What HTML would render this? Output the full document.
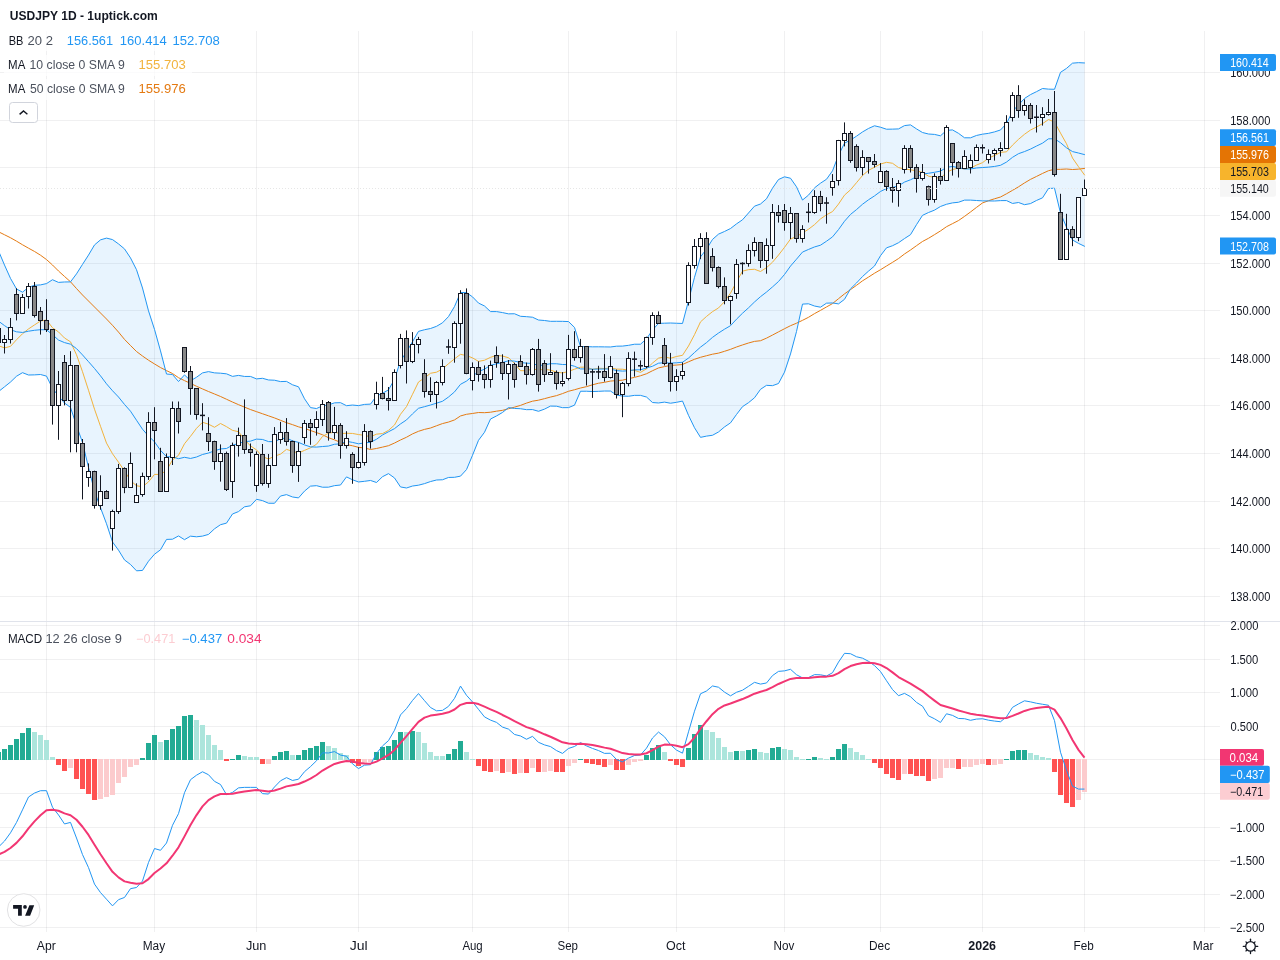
<!DOCTYPE html>
<html><head><meta charset="utf-8"><title>USDJPY 1D</title>
<style>html,body{margin:0;padding:0;background:#fff;width:1280px;height:960px;overflow:hidden}body{position:relative;font-family:"Liberation Sans", sans-serif}</style>
</head><body>
<svg width="1280" height="960" viewBox="0 0 1280 960" style="position:absolute;left:0;top:0;will-change:transform" font-family='"Liberation Sans", sans-serif'><rect width="1280" height="960" fill="#ffffff"/><path d="M46.5,31V621M46.5,622V932M154.5,31V621M154.5,622V932M256.5,31V621M256.5,622V932M358.5,31V621M358.5,622V932M472.5,31V621M472.5,622V932M568.5,31V621M568.5,622V932M676.5,31V621M676.5,622V932M784.5,31V621M784.5,622V932M880.5,31V621M880.5,622V932M982.5,31V621M982.5,622V932M1084.5,31V621M1084.5,622V932M1204.5,31V621M1204.5,622V932M0,72.5H1220M0,120.5H1220M0,167.5H1220M0,215.5H1220M0,263.5H1220M0,310.5H1220M0,358.5H1220M0,405.5H1220M0,453.5H1220M0,501.5H1220M0,548.5H1220M0,596.5H1220M0,625.5H1220M0,659.5H1220M0,692.5H1220M0,726.5H1220M0,759.5H1220M0,793.5H1220M0,827.5H1220M0,860.5H1220M0,894.5H1220M0,927.5H1220" stroke="rgba(42,46,57,0.07)" stroke-width="1" fill="none"/><path d="M-1.5,250.84 L4.5,265.06 L10.5,278.40 L16.5,288.96 L22.5,292.18 L28.5,287.33 L34.5,285.29 L40.5,284.90 L46.5,283.59 L52.5,279.73 L58.5,282.40 L64.5,281.97 L70.5,281.88 L76.5,273.85 L82.5,264.38 L88.5,255.09 L94.5,244.93 L100.5,239.85 L106.5,238.12 L112.5,239.59 L118.5,243.91 L124.5,248.90 L130.5,257.91 L136.5,269.69 L142.5,288.02 L148.5,310.85 L154.5,329.39 L160.5,350.91 L166.5,374.02 L172.5,374.52 L178.5,381.52 L184.5,374.92 L190.5,380.75 L196.5,377.25 L202.5,372.90 L208.5,371.61 L214.5,372.87 L220.5,373.20 L226.5,373.84 L232.5,376.38 L238.5,375.40 L244.5,376.44 L250.5,376.45 L256.5,378.89 L262.5,378.30 L268.5,379.96 L274.5,380.23 L280.5,381.59 L286.5,381.40 L292.5,384.77 L298.5,386.81 L304.5,398.77 L310.5,407.60 L316.5,408.54 L322.5,405.82 L328.5,404.95 L334.5,402.85 L340.5,402.66 L346.5,405.70 L352.5,405.04 L358.5,405.62 L364.5,404.42 L370.5,404.12 L376.5,395.96 L382.5,393.27 L388.5,389.84 L394.5,379.32 L400.5,360.90 L406.5,351.86 L412.5,341.71 L418.5,331.35 L424.5,329.74 L430.5,328.50 L436.5,326.34 L442.5,322.80 L448.5,316.59 L454.5,306.55 L460.5,292.50 L466.5,292.59 L472.5,296.86 L478.5,303.07 L484.5,305.97 L490.5,311.59 L496.5,311.59 L502.5,312.58 L508.5,313.85 L514.5,313.75 L520.5,316.29 L526.5,316.66 L532.5,317.23 L538.5,320.03 L544.5,320.51 L550.5,321.33 L556.5,321.29 L562.5,321.35 L568.5,321.57 L574.5,327.41 L580.5,346.62 L586.5,346.62 L592.5,346.83 L598.5,346.81 L604.5,346.89 L610.5,346.97 L616.5,346.19 L622.5,346.09 L628.5,345.33 L634.5,344.22 L640.5,344.22 L646.5,338.86 L652.5,329.97 L658.5,323.40 L664.5,323.19 L670.5,323.01 L676.5,323.25 L682.5,323.46 L688.5,300.78 L694.5,277.31 L700.5,256.89 L706.5,249.13 L712.5,239.43 L718.5,234.13 L724.5,231.47 L730.5,228.53 L736.5,223.89 L742.5,219.79 L748.5,212.98 L754.5,206.16 L760.5,204.00 L766.5,198.80 L772.5,188.16 L778.5,179.53 L784.5,176.82 L790.5,178.24 L796.5,186.80 L802.5,200.05 L808.5,195.11 L814.5,187.87 L820.5,183.20 L826.5,179.25 L832.5,170.84 L838.5,155.27 L844.5,143.13 L850.5,140.07 L856.5,136.17 L862.5,131.95 L868.5,128.46 L874.5,125.79 L880.5,127.23 L886.5,129.23 L892.5,129.13 L898.5,128.92 L904.5,125.60 L910.5,124.89 L916.5,128.90 L922.5,132.53 L928.5,134.01 L934.5,134.42 L940.5,135.80 L946.5,130.38 L952.5,129.92 L958.5,133.34 L964.5,137.78 L970.5,137.82 L976.5,135.46 L982.5,134.17 L988.5,133.35 L994.5,131.90 L1000.5,129.97 L1006.5,123.60 L1012.5,111.23 L1018.5,104.88 L1024.5,98.45 L1030.5,94.60 L1036.5,91.67 L1042.5,88.51 L1048.5,89.14 L1054.5,89.29 L1060.5,72.33 L1066.5,68.40 L1072.5,63.16 L1078.5,62.65 L1084.5,62.96 L1084.5,246.25 L1078.5,243.38 L1072.5,239.99 L1066.5,227.23 L1060.5,213.08 L1054.5,188.21 L1048.5,188.51 L1042.5,197.83 L1036.5,200.46 L1030.5,203.58 L1024.5,204.68 L1018.5,202.51 L1012.5,203.45 L1006.5,200.57 L1000.5,200.62 L994.5,201.00 L988.5,200.94 L982.5,200.88 L976.5,200.50 L970.5,200.11 L964.5,200.11 L958.5,202.26 L952.5,202.89 L946.5,204.27 L940.5,206.47 L934.5,210.14 L928.5,212.53 L922.5,215.35 L916.5,224.67 L910.5,234.68 L904.5,238.56 L898.5,242.73 L892.5,245.72 L886.5,247.84 L880.5,255.70 L874.5,266.02 L868.5,271.14 L862.5,276.55 L856.5,282.99 L850.5,288.80 L844.5,299.34 L838.5,303.89 L832.5,302.94 L826.5,303.18 L820.5,307.20 L814.5,306.03 L808.5,303.79 L802.5,304.10 L796.5,331.55 L790.5,353.94 L784.5,372.14 L778.5,383.50 L772.5,385.67 L766.5,385.33 L760.5,389.34 L754.5,397.78 L748.5,402.68 L742.5,406.66 L736.5,414.47 L730.5,422.86 L724.5,426.93 L718.5,431.98 L712.5,435.28 L706.5,436.11 L700.5,437.36 L694.5,427.74 L688.5,415.36 L682.5,401.07 L676.5,402.32 L670.5,403.22 L664.5,402.12 L658.5,402.98 L652.5,402.53 L646.5,397.02 L640.5,395.37 L634.5,395.37 L628.5,396.26 L622.5,396.10 L616.5,395.04 L610.5,391.05 L604.5,391.03 L598.5,391.34 L592.5,391.53 L586.5,391.23 L580.5,391.25 L574.5,405.16 L568.5,407.62 L562.5,407.67 L556.5,406.21 L550.5,406.09 L544.5,409.11 L538.5,411.29 L532.5,409.57 L526.5,409.67 L520.5,408.72 L514.5,408.46 L508.5,407.59 L502.5,412.46 L496.5,415.95 L490.5,419.03 L484.5,432.25 L478.5,440.31 L472.5,455.30 L466.5,469.58 L460.5,476.14 L454.5,477.30 L448.5,477.46 L442.5,479.75 L436.5,480.01 L430.5,481.55 L424.5,483.62 L418.5,485.19 L412.5,486.03 L406.5,487.99 L400.5,486.95 L394.5,477.95 L388.5,473.64 L382.5,476.70 L376.5,482.51 L370.5,480.46 L364.5,481.31 L358.5,481.96 L352.5,479.77 L346.5,476.90 L340.5,485.03 L334.5,485.65 L328.5,487.18 L322.5,487.22 L316.5,485.66 L310.5,486.14 L304.5,491.10 L298.5,497.90 L292.5,496.97 L286.5,494.61 L280.5,496.04 L274.5,503.28 L268.5,503.22 L262.5,500.61 L256.5,499.32 L250.5,505.81 L244.5,506.80 L238.5,511.59 L232.5,513.98 L226.5,523.14 L220.5,524.70 L214.5,528.82 L208.5,534.42 L202.5,536.11 L196.5,536.81 L190.5,536.16 L184.5,539.68 L178.5,535.94 L172.5,539.21 L166.5,539.42 L160.5,549.79 L154.5,554.21 L148.5,561.23 L142.5,570.43 L136.5,570.80 L130.5,564.48 L124.5,559.95 L118.5,550.16 L112.5,541.94 L106.5,523.75 L100.5,507.75 L94.5,491.25 L88.5,467.40 L82.5,442.50 L76.5,425.55 L70.5,407.40 L64.5,403.00 L58.5,396.11 L52.5,388.29 L46.5,376.11 L40.5,374.51 L34.5,374.87 L28.5,375.00 L22.5,372.66 L16.5,376.25 L10.5,382.04 L4.5,386.82 L-1.5,391.59Z" fill="#2196f3" fill-opacity="0.1"/><g fill="none" stroke-linejoin="round" stroke-linecap="round"><path d="M-1.5,231.75 L4.5,234.75 L10.5,237.75 L16.5,241.15 L22.5,244.75 L28.5,248.17 L34.5,251.46 L40.5,255.19 L46.5,259.57 L52.5,265.00 L58.5,271.00 L64.5,276.44 L70.5,281.81 L76.5,288.56 L82.5,295.00 L88.5,301.00 L94.5,307.00 L100.5,313.00 L106.5,319.00 L112.5,325.32 L118.5,332.09 L124.5,339.38 L130.5,345.50 L136.5,351.50 L142.5,356.02 L148.5,360.21 L154.5,363.95 L160.5,367.55 L166.5,370.60 L172.5,373.52 L178.5,377.70 L184.5,380.64 L190.5,383.38 L196.5,386.27 L202.5,388.93 L208.5,391.52 L214.5,393.99 L220.5,396.48 L226.5,399.26 L232.5,402.04 L238.5,404.65 L244.5,407.13 L250.5,409.57 L256.5,411.66 L262.5,413.75 L268.5,415.84 L274.5,417.93 L280.5,420.30 L286.5,422.70 L292.5,424.65 L298.5,426.82 L304.5,428.49 L310.5,430.49 L316.5,432.60 L322.5,434.75 L328.5,437.68 L334.5,439.88 L340.5,442.38 L346.5,444.54 L352.5,445.78 L358.5,447.35 L364.5,447.97 L370.5,449.49 L376.5,448.48 L382.5,447.12 L388.5,445.70 L394.5,443.04 L400.5,439.98 L406.5,437.24 L412.5,433.89 L418.5,431.31 L424.5,429.39 L430.5,428.02 L436.5,425.77 L442.5,423.57 L448.5,422.07 L454.5,419.93 L460.5,415.96 L466.5,414.29 L472.5,413.47 L478.5,412.53 L484.5,412.69 L490.5,412.23 L496.5,411.18 L502.5,410.33 L508.5,408.78 L514.5,407.14 L520.5,405.40 L526.5,403.11 L532.5,401.18 L538.5,400.18 L544.5,398.67 L550.5,397.05 L556.5,395.63 L562.5,393.59 L568.5,391.27 L574.5,389.74 L580.5,388.01 L586.5,386.65 L592.5,384.79 L598.5,383.22 L604.5,382.30 L610.5,381.08 L616.5,380.59 L622.5,380.16 L628.5,378.68 L634.5,377.36 L640.5,375.78 L646.5,373.76 L652.5,370.72 L658.5,367.94 L664.5,366.59 L670.5,365.38 L676.5,365.05 L682.5,364.51 L688.5,361.81 L694.5,359.29 L700.5,357.29 L706.5,355.73 L712.5,354.19 L718.5,353.13 L724.5,351.31 L730.5,349.35 L736.5,346.99 L742.5,344.94 L748.5,343.00 L754.5,341.38 L760.5,340.72 L766.5,338.15 L772.5,335.05 L778.5,331.87 L784.5,328.73 L790.5,325.70 L796.5,323.21 L802.5,320.33 L808.5,317.30 L814.5,313.63 L820.5,310.37 L826.5,306.95 L832.5,303.58 L838.5,298.70 L844.5,293.88 L850.5,289.64 L856.5,285.32 L862.5,280.84 L868.5,277.08 L874.5,273.23 L880.5,269.73 L886.5,266.00 L892.5,262.35 L898.5,258.57 L904.5,253.98 L910.5,250.01 L916.5,245.68 L922.5,241.47 L928.5,238.29 L934.5,234.63 L940.5,230.91 L946.5,226.71 L952.5,223.64 L958.5,220.54 L964.5,216.40 L970.5,211.98 L976.5,207.40 L982.5,202.94 L988.5,200.71 L994.5,198.79 L1000.5,197.00 L1006.5,193.78 L1012.5,190.35 L1018.5,186.82 L1024.5,182.93 L1030.5,179.37 L1036.5,176.44 L1042.5,173.44 L1048.5,170.69 L1054.5,169.34 L1060.5,169.32 L1066.5,169.01 L1072.5,169.51 L1078.5,169.14 L1084.5,168.44" stroke="#e47a12" stroke-width="1"/><path d="M-1.5,345.69 L4.5,347.92 L10.5,346.35 L16.5,339.75 L22.5,333.75 L28.5,328.92 L34.5,324.92 L40.5,321.00 L46.5,320.02 L52.5,327.79 L58.5,331.91 L64.5,337.99 L70.5,341.80 L76.5,354.75 L82.5,371.71 L88.5,390.22 L94.5,409.19 L100.5,426.29 L106.5,443.12 L112.5,453.74 L118.5,462.16 L124.5,470.86 L130.5,480.59 L136.5,485.74 L142.5,486.74 L148.5,481.86 L154.5,474.41 L160.5,474.41 L166.5,470.32 L172.5,459.99 L178.5,455.30 L184.5,443.74 L190.5,436.32 L196.5,428.32 L202.5,422.27 L208.5,424.17 L214.5,427.28 L220.5,423.49 L226.5,426.66 L232.5,430.37 L238.5,431.69 L244.5,439.50 L250.5,445.94 L256.5,449.89 L262.5,456.64 L268.5,459.00 L274.5,456.23 L280.5,454.14 L286.5,449.35 L292.5,451.37 L298.5,453.02 L304.5,450.37 L310.5,447.80 L316.5,444.31 L322.5,436.40 L328.5,433.12 L334.5,432.26 L340.5,433.56 L346.5,433.25 L352.5,433.44 L358.5,434.56 L364.5,435.37 L370.5,436.78 L376.5,434.16 L382.5,433.57 L388.5,430.35 L394.5,425.00 L400.5,414.29 L406.5,406.60 L412.5,394.30 L418.5,381.98 L424.5,378.00 L430.5,373.27 L436.5,372.19 L442.5,368.98 L448.5,363.70 L454.5,358.85 L460.5,354.35 L466.5,355.57 L472.5,357.86 L478.5,361.40 L484.5,360.22 L490.5,357.35 L496.5,355.35 L502.5,356.06 L508.5,357.74 L514.5,363.36 L520.5,370.66 L526.5,370.76 L532.5,368.94 L538.5,369.92 L544.5,369.40 L550.5,370.07 L556.5,372.15 L562.5,372.96 L568.5,371.45 L574.5,369.21 L580.5,367.21 L586.5,367.09 L592.5,369.42 L598.5,368.23 L604.5,368.52 L610.5,367.95 L616.5,369.08 L622.5,369.23 L628.5,370.14 L634.5,370.38 L640.5,372.38 L646.5,368.79 L652.5,363.08 L658.5,358.15 L664.5,356.79 L670.5,358.28 L676.5,356.49 L682.5,355.30 L688.5,346.00 L694.5,334.67 L700.5,321.87 L706.5,316.45 L712.5,311.63 L718.5,307.96 L724.5,301.61 L730.5,293.11 L736.5,281.87 L742.5,271.15 L748.5,269.66 L754.5,269.27 L760.5,271.47 L766.5,267.68 L772.5,262.20 L778.5,255.07 L784.5,247.35 L790.5,239.07 L796.5,236.48 L802.5,233.00 L808.5,229.24 L814.5,224.63 L820.5,218.93 L826.5,214.75 L832.5,211.58 L838.5,204.09 L844.5,195.12 L850.5,189.80 L856.5,182.68 L862.5,175.50 L868.5,170.36 L874.5,167.18 L880.5,164.00 L886.5,162.32 L892.5,163.27 L898.5,167.56 L904.5,169.04 L910.5,169.77 L916.5,170.89 L922.5,172.37 L928.5,176.18 L934.5,177.38 L940.5,178.27 L946.5,172.33 L952.5,169.54 L958.5,168.04 L964.5,168.85 L970.5,168.16 L976.5,165.07 L982.5,162.67 L988.5,158.10 L994.5,155.52 L1000.5,152.32 L1006.5,151.84 L1012.5,145.14 L1018.5,139.34 L1024.5,134.28 L1030.5,130.03 L1036.5,127.05 L1042.5,123.67 L1048.5,119.55 L1054.5,121.98 L1060.5,133.08 L1066.5,143.78 L1072.5,158.01 L1078.5,166.69 L1084.5,174.93" stroke="#f2b33d" stroke-width="1"/><path d="M-1.5,250.84 L4.5,265.06 L10.5,278.40 L16.5,288.96 L22.5,292.18 L28.5,287.33 L34.5,285.29 L40.5,284.90 L46.5,283.59 L52.5,279.73 L58.5,282.40 L64.5,281.97 L70.5,281.88 L76.5,273.85 L82.5,264.38 L88.5,255.09 L94.5,244.93 L100.5,239.85 L106.5,238.12 L112.5,239.59 L118.5,243.91 L124.5,248.90 L130.5,257.91 L136.5,269.69 L142.5,288.02 L148.5,310.85 L154.5,329.39 L160.5,350.91 L166.5,374.02 L172.5,374.52 L178.5,381.52 L184.5,374.92 L190.5,380.75 L196.5,377.25 L202.5,372.90 L208.5,371.61 L214.5,372.87 L220.5,373.20 L226.5,373.84 L232.5,376.38 L238.5,375.40 L244.5,376.44 L250.5,376.45 L256.5,378.89 L262.5,378.30 L268.5,379.96 L274.5,380.23 L280.5,381.59 L286.5,381.40 L292.5,384.77 L298.5,386.81 L304.5,398.77 L310.5,407.60 L316.5,408.54 L322.5,405.82 L328.5,404.95 L334.5,402.85 L340.5,402.66 L346.5,405.70 L352.5,405.04 L358.5,405.62 L364.5,404.42 L370.5,404.12 L376.5,395.96 L382.5,393.27 L388.5,389.84 L394.5,379.32 L400.5,360.90 L406.5,351.86 L412.5,341.71 L418.5,331.35 L424.5,329.74 L430.5,328.50 L436.5,326.34 L442.5,322.80 L448.5,316.59 L454.5,306.55 L460.5,292.50 L466.5,292.59 L472.5,296.86 L478.5,303.07 L484.5,305.97 L490.5,311.59 L496.5,311.59 L502.5,312.58 L508.5,313.85 L514.5,313.75 L520.5,316.29 L526.5,316.66 L532.5,317.23 L538.5,320.03 L544.5,320.51 L550.5,321.33 L556.5,321.29 L562.5,321.35 L568.5,321.57 L574.5,327.41 L580.5,346.62 L586.5,346.62 L592.5,346.83 L598.5,346.81 L604.5,346.89 L610.5,346.97 L616.5,346.19 L622.5,346.09 L628.5,345.33 L634.5,344.22 L640.5,344.22 L646.5,338.86 L652.5,329.97 L658.5,323.40 L664.5,323.19 L670.5,323.01 L676.5,323.25 L682.5,323.46 L688.5,300.78 L694.5,277.31 L700.5,256.89 L706.5,249.13 L712.5,239.43 L718.5,234.13 L724.5,231.47 L730.5,228.53 L736.5,223.89 L742.5,219.79 L748.5,212.98 L754.5,206.16 L760.5,204.00 L766.5,198.80 L772.5,188.16 L778.5,179.53 L784.5,176.82 L790.5,178.24 L796.5,186.80 L802.5,200.05 L808.5,195.11 L814.5,187.87 L820.5,183.20 L826.5,179.25 L832.5,170.84 L838.5,155.27 L844.5,143.13 L850.5,140.07 L856.5,136.17 L862.5,131.95 L868.5,128.46 L874.5,125.79 L880.5,127.23 L886.5,129.23 L892.5,129.13 L898.5,128.92 L904.5,125.60 L910.5,124.89 L916.5,128.90 L922.5,132.53 L928.5,134.01 L934.5,134.42 L940.5,135.80 L946.5,130.38 L952.5,129.92 L958.5,133.34 L964.5,137.78 L970.5,137.82 L976.5,135.46 L982.5,134.17 L988.5,133.35 L994.5,131.90 L1000.5,129.97 L1006.5,123.60 L1012.5,111.23 L1018.5,104.88 L1024.5,98.45 L1030.5,94.60 L1036.5,91.67 L1042.5,88.51 L1048.5,89.14 L1054.5,89.29 L1060.5,72.33 L1066.5,68.40 L1072.5,63.16 L1078.5,62.65 L1084.5,62.96" stroke="#2196f3" stroke-width="1"/><path d="M-1.5,391.59 L4.5,386.82 L10.5,382.04 L16.5,376.25 L22.5,372.66 L28.5,375.00 L34.5,374.87 L40.5,374.51 L46.5,376.11 L52.5,388.29 L58.5,396.11 L64.5,403.00 L70.5,407.40 L76.5,425.55 L82.5,442.50 L88.5,467.40 L94.5,491.25 L100.5,507.75 L106.5,523.75 L112.5,541.94 L118.5,550.16 L124.5,559.95 L130.5,564.48 L136.5,570.80 L142.5,570.43 L148.5,561.23 L154.5,554.21 L160.5,549.79 L166.5,539.42 L172.5,539.21 L178.5,535.94 L184.5,539.68 L190.5,536.16 L196.5,536.81 L202.5,536.11 L208.5,534.42 L214.5,528.82 L220.5,524.70 L226.5,523.14 L232.5,513.98 L238.5,511.59 L244.5,506.80 L250.5,505.81 L256.5,499.32 L262.5,500.61 L268.5,503.22 L274.5,503.28 L280.5,496.04 L286.5,494.61 L292.5,496.97 L298.5,497.90 L304.5,491.10 L310.5,486.14 L316.5,485.66 L322.5,487.22 L328.5,487.18 L334.5,485.65 L340.5,485.03 L346.5,476.90 L352.5,479.77 L358.5,481.96 L364.5,481.31 L370.5,480.46 L376.5,482.51 L382.5,476.70 L388.5,473.64 L394.5,477.95 L400.5,486.95 L406.5,487.99 L412.5,486.03 L418.5,485.19 L424.5,483.62 L430.5,481.55 L436.5,480.01 L442.5,479.75 L448.5,477.46 L454.5,477.30 L460.5,476.14 L466.5,469.58 L472.5,455.30 L478.5,440.31 L484.5,432.25 L490.5,419.03 L496.5,415.95 L502.5,412.46 L508.5,407.59 L514.5,408.46 L520.5,408.72 L526.5,409.67 L532.5,409.57 L538.5,411.29 L544.5,409.11 L550.5,406.09 L556.5,406.21 L562.5,407.67 L568.5,407.62 L574.5,405.16 L580.5,391.25 L586.5,391.23 L592.5,391.53 L598.5,391.34 L604.5,391.03 L610.5,391.05 L616.5,395.04 L622.5,396.10 L628.5,396.26 L634.5,395.37 L640.5,395.37 L646.5,397.02 L652.5,402.53 L658.5,402.98 L664.5,402.12 L670.5,403.22 L676.5,402.32 L682.5,401.07 L688.5,415.36 L694.5,427.74 L700.5,437.36 L706.5,436.11 L712.5,435.28 L718.5,431.98 L724.5,426.93 L730.5,422.86 L736.5,414.47 L742.5,406.66 L748.5,402.68 L754.5,397.78 L760.5,389.34 L766.5,385.33 L772.5,385.67 L778.5,383.50 L784.5,372.14 L790.5,353.94 L796.5,331.55 L802.5,304.10 L808.5,303.79 L814.5,306.03 L820.5,307.20 L826.5,303.18 L832.5,302.94 L838.5,303.89 L844.5,299.34 L850.5,288.80 L856.5,282.99 L862.5,276.55 L868.5,271.14 L874.5,266.02 L880.5,255.70 L886.5,247.84 L892.5,245.72 L898.5,242.73 L904.5,238.56 L910.5,234.68 L916.5,224.67 L922.5,215.35 L928.5,212.53 L934.5,210.14 L940.5,206.47 L946.5,204.27 L952.5,202.89 L958.5,202.26 L964.5,200.11 L970.5,200.11 L976.5,200.50 L982.5,200.88 L988.5,200.94 L994.5,201.00 L1000.5,200.62 L1006.5,200.57 L1012.5,203.45 L1018.5,202.51 L1024.5,204.68 L1030.5,203.58 L1036.5,200.46 L1042.5,197.83 L1048.5,188.51 L1054.5,188.21 L1060.5,213.08 L1066.5,227.23 L1072.5,239.99 L1078.5,243.38 L1084.5,246.25" stroke="#2196f3" stroke-width="1"/><path d="M-1.5,321.13 L4.5,325.60 L10.5,329.69 L16.5,331.80 L22.5,332.48 L28.5,331.19 L34.5,330.29 L40.5,329.71 L46.5,329.73 L52.5,334.69 L58.5,340.05 L64.5,342.58 L70.5,344.20 L76.5,348.60 L82.5,354.91 L88.5,361.66 L94.5,368.48 L100.5,375.85 L106.5,383.82 L112.5,390.76 L118.5,397.03 L124.5,404.43 L130.5,411.19 L136.5,420.25 L142.5,429.22 L148.5,436.04 L154.5,441.80 L160.5,450.35 L166.5,456.72 L172.5,456.86 L178.5,458.73 L184.5,457.30 L190.5,458.46 L196.5,457.03 L202.5,454.50 L208.5,453.01 L214.5,450.85 L220.5,448.95 L226.5,448.49 L232.5,445.18 L238.5,443.50 L244.5,441.62 L250.5,441.13 L256.5,439.10 L262.5,439.46 L268.5,441.59 L274.5,441.76 L280.5,438.81 L286.5,438.00 L292.5,440.87 L298.5,442.36 L304.5,444.93 L310.5,446.87 L316.5,447.10 L322.5,446.52 L328.5,446.06 L334.5,444.25 L340.5,443.84 L346.5,441.30 L352.5,442.41 L358.5,443.79 L364.5,442.87 L370.5,442.29 L376.5,439.24 L382.5,434.98 L388.5,431.74 L394.5,428.63 L400.5,423.92 L406.5,419.93 L412.5,413.87 L418.5,408.27 L424.5,406.68 L430.5,405.02 L436.5,403.17 L442.5,401.27 L448.5,397.02 L454.5,391.92 L460.5,384.32 L466.5,381.08 L472.5,376.08 L478.5,371.69 L484.5,369.11 L490.5,365.31 L496.5,363.77 L502.5,362.52 L508.5,360.72 L514.5,361.11 L520.5,362.50 L526.5,363.17 L532.5,363.40 L538.5,365.66 L544.5,364.81 L550.5,363.71 L556.5,363.75 L562.5,364.51 L568.5,364.60 L574.5,366.28 L580.5,368.94 L586.5,368.93 L592.5,369.18 L598.5,369.07 L604.5,368.96 L610.5,369.01 L616.5,370.62 L622.5,371.10 L628.5,370.80 L634.5,369.80 L640.5,369.80 L646.5,367.94 L652.5,366.25 L658.5,363.19 L664.5,362.65 L670.5,363.11 L676.5,362.79 L682.5,362.26 L688.5,358.07 L694.5,352.53 L700.5,347.13 L706.5,342.62 L712.5,337.36 L718.5,333.05 L724.5,329.20 L730.5,325.70 L736.5,319.18 L742.5,313.22 L748.5,307.83 L754.5,301.97 L760.5,296.67 L766.5,292.06 L772.5,286.91 L778.5,281.51 L784.5,274.48 L790.5,266.09 L796.5,259.18 L802.5,252.07 L808.5,249.45 L814.5,246.95 L820.5,245.20 L826.5,241.22 L832.5,236.89 L838.5,229.58 L844.5,221.24 L850.5,214.44 L856.5,209.58 L862.5,204.25 L868.5,199.80 L874.5,195.90 L880.5,191.46 L886.5,188.53 L892.5,187.43 L898.5,185.82 L904.5,182.08 L910.5,179.78 L916.5,176.78 L922.5,173.94 L928.5,173.27 L934.5,172.28 L940.5,171.14 L946.5,167.33 L952.5,166.41 L958.5,167.80 L964.5,168.95 L970.5,168.96 L976.5,167.98 L982.5,167.52 L988.5,167.14 L994.5,166.45 L1000.5,165.30 L1006.5,162.09 L1012.5,157.34 L1018.5,153.69 L1024.5,151.57 L1030.5,149.09 L1036.5,146.06 L1042.5,143.17 L1048.5,138.82 L1054.5,138.75 L1060.5,142.71 L1066.5,147.81 L1072.5,151.57 L1078.5,153.02 L1084.5,154.60" stroke="#2196f3" stroke-width="1"/></g><path d="M-1.5,326.0V345.0M4.5,335.0V353.5M10.5,318.0V343.5M16.5,288.3V320.4M22.5,294.0V313.8M28.5,283.0V308.5M34.5,282.0V317.5M40.5,307.0V334.6M46.5,299.2V332.0M52.5,329.0V424.6M58.5,371.0V439.8M64.5,355.0V405.4M70.5,351.2V452.3M76.5,365.4V452.3M82.5,439.0V499.4M88.5,463.4V486.8M94.5,470.7V508.6M100.5,475.3V509.7M106.5,490.2V498.7M112.5,509.7V550.6M118.5,463.9V513.9M124.5,467.3V493.2M130.5,452.4V487.2M136.5,483.3V502.4M142.5,472.6V496.7M148.5,412.2V479.9M154.5,407.2V459.3M160.5,447.8V491.4M166.5,453.5V491.4M172.5,401.5V465.0M178.5,401.5V433.5M184.5,347.3V372.8M190.5,366.0V414.8M196.5,388.5V419.7M202.5,403.2V430.4M208.5,417.2V451.0M214.5,440.7V469.8M220.5,444.4V481.6M226.5,451.6V491.0M232.5,442.6V497.9M238.5,427.6V456.6M244.5,399.4V453.8M250.5,443.5V466.6M256.5,451.4V491.8M262.5,444.0V485.6M268.5,454.0V487.8M274.5,427.1V465.6M280.5,421.9V443.8M286.5,418.1V445.6M292.5,440.6V472.8M298.5,442.5V481.9M304.5,420.0V443.8M310.5,419.0V444.8M316.5,411.2V435.6M322.5,400.0V426.0M328.5,401.0V440.6M334.5,406.9V439.0M340.5,423.2V458.7M346.5,431.2V448.6M352.5,452.3V483.8M358.5,447.0V468.5M364.5,424.1V465.6M370.5,430.4V448.6M376.5,381.7V409.5M382.5,376.9V399.4M388.5,387.0V410.5M394.5,369.3V400.6M400.5,333.9V368.4M406.5,330.4V383.5M412.5,332.1V363.1M418.5,336.9V353.4M424.5,359.2V397.6M430.5,377.3V402.0M436.5,381.1V408.5M442.5,359.3V385.4M448.5,339.3V353.8M454.5,321.3V362.7M460.5,290.2V343.7M466.5,288.4V374.2M472.5,362.4V390.4M478.5,361.3V381.6M484.5,365.4V388.4M490.5,360.6V387.7M496.5,346.4V367.8M502.5,354.3V380.0M508.5,360.0V399.5M514.5,362.7V387.7M520.5,355.2V366.7M526.5,362.5V384.5M532.5,348.0V375.6M538.5,338.9V391.6M544.5,360.1V381.9M550.5,353.2V374.8M556.5,370.4V389.6M562.5,372.1V386.4M568.5,334.9V380.5M574.5,331.2V360.7M580.5,338.9V362.6M586.5,346.3V385.5M592.5,369.0V397.9M598.5,365.8V379.0M604.5,354.1V381.6M610.5,356.1V378.4M616.5,369.5V398.5M622.5,382.0V417.2M628.5,352.2V386.3M634.5,351.6V376.6M640.5,360.4V370.5M646.5,336.7V368.2M652.5,312.3V344.8M658.5,311.4V323.2M664.5,338.0V365.5M670.5,352.9V391.5M676.5,369.2V390.8M682.5,362.4V379.6M688.5,262.3V305.5M694.5,239.0V268.6M700.5,233.2V259.1M706.5,232.2V283.2M712.5,248.2V271.5M718.5,266.4V288.3M724.5,277.4V304.3M730.5,295.6V324.4M736.5,259.1V298.8M742.5,262.3V274.4M748.5,244.3V266.7M754.5,237.3V256.5M760.5,242.4V267.9M766.5,238.4V273.7M772.5,204.0V258.8M778.5,205.1V222.6M784.5,204.0V230.7M790.5,207.0V239.0M796.5,213.2V242.7M802.5,225.2V242.7M808.5,203.0V222.5M814.5,190.2V213.8M820.5,190.9V211.3M826.5,197.2V223.7M832.5,174.1V195.7M838.5,139.9V185.5M844.5,122.4V146.4M850.5,131.1V162.8M856.5,144.3V171.5M862.5,150.2V175.3M868.5,157.4V173.6M874.5,154.0V167.6M880.5,163.1V182.5M886.5,170.2V190.8M892.5,178.0V202.7M898.5,180.1V206.7M904.5,145.2V173.5M910.5,145.2V172.5M916.5,164.2V192.6M922.5,164.0V180.6M928.5,185.6V205.6M934.5,173.3V202.7M940.5,168.1V184.6M946.5,125.2V180.3M952.5,143.4V175.6M958.5,161.0V177.5M964.5,150.2V168.1M970.5,154.4V173.5M976.5,144.4V160.2M982.5,144.4V153.5M988.5,149.4V163.5M994.5,148.5V160.6M1000.5,142.2V156.5M1006.5,115.2V148.5M1012.5,92.2V121.5M1018.5,85.2V117.8M1024.5,99.4V115.6M1030.5,103.1V123.5M1036.5,105.0V132.5M1042.5,107.2V125.6M1048.5,99.0V115.6M1054.5,91.0V176.6M1060.5,193.8V259.5M1066.5,213.8V259.5M1072.5,226.2V246.2M1078.5,197.0V241.2M1084.5,179.5V195.5" stroke="#131722" stroke-width="1" fill="none"/><g fill="#ffffff" stroke="#131722" stroke-width="1"><rect x="2.5" y="339.5" width="4" height="3"/><rect x="8.5" y="327.5" width="4" height="12"/><rect x="20.5" y="297.5" width="4" height="16"/><rect x="26.5" y="286.5" width="4" height="10"/><rect x="56.5" y="384.5" width="4" height="21"/><rect x="68.5" y="365.5" width="4" height="35"/><rect x="86.5" y="471.5" width="4" height="6"/><rect x="98.5" y="491.5" width="4" height="14"/><rect x="110.5" y="511.5" width="4" height="17"/><rect x="116.5" y="468.5" width="4" height="43"/><rect x="128.5" y="463.5" width="4" height="24"/><rect x="134.5" y="495.5" width="4" height="7"/><rect x="140.5" y="476.5" width="4" height="18"/><rect x="146.5" y="422.5" width="4" height="54"/><rect x="164.5" y="457.5" width="4" height="34"/><rect x="170.5" y="408.5" width="4" height="49"/><rect x="218.5" y="453.5" width="4" height="8"/><rect x="230.5" y="445.5" width="4" height="36"/><rect x="236.5" y="435.5" width="4" height="10"/><rect x="254.5" y="454.5" width="4" height="31"/><rect x="266.5" y="465.5" width="4" height="18"/><rect x="272.5" y="434.5" width="4" height="31"/><rect x="278.5" y="432.5" width="4" height="7"/><rect x="296.5" y="451.5" width="4" height="14"/><rect x="302.5" y="423.5" width="4" height="14"/><rect x="314.5" y="419.5" width="4" height="8"/><rect x="320.5" y="404.5" width="4" height="15"/><rect x="332.5" y="425.5" width="4" height="7"/><rect x="344.5" y="438.5" width="4" height="7"/><rect x="356.5" y="462.5" width="4" height="5"/><rect x="362.5" y="431.5" width="4" height="31"/><rect x="374.5" y="393.5" width="4" height="11"/><rect x="392.5" y="372.5" width="4" height="28"/><rect x="398.5" y="338.5" width="4" height="27"/><rect x="410.5" y="344.5" width="4" height="17"/><rect x="416.5" y="339.5" width="4" height="5"/><rect x="434.5" y="382.5" width="4" height="12"/><rect x="440.5" y="366.5" width="4" height="16"/><rect x="452.5" y="323.5" width="4" height="24"/><rect x="458.5" y="293.5" width="4" height="30"/><rect x="470.5" y="367.5" width="4" height="13"/><rect x="488.5" y="365.5" width="4" height="14"/><rect x="506.5" y="364.5" width="4" height="9"/><rect x="530.5" y="349.5" width="4" height="25"/><rect x="548.5" y="372.5" width="4" height="2"/><rect x="560.5" y="381.5" width="4" height="2"/><rect x="566.5" y="349.5" width="4" height="29"/><rect x="578.5" y="346.5" width="4" height="11"/><rect x="608.5" y="366.5" width="4" height="11"/><rect x="620.5" y="383.5" width="4" height="11"/><rect x="626.5" y="358.5" width="4" height="25"/><rect x="644.5" y="337.5" width="4" height="29"/><rect x="650.5" y="315.5" width="4" height="22"/><rect x="674.5" y="376.5" width="4" height="5"/><rect x="680.5" y="371.5" width="4" height="4"/><rect x="686.5" y="265.5" width="4" height="37"/><rect x="692.5" y="246.5" width="4" height="19"/><rect x="698.5" y="238.5" width="4" height="8"/><rect x="728.5" y="296.5" width="4" height="4"/><rect x="734.5" y="264.5" width="4" height="29"/><rect x="746.5" y="250.5" width="4" height="13"/><rect x="752.5" y="242.5" width="4" height="8"/><rect x="764.5" y="245.5" width="4" height="15"/><rect x="770.5" y="212.5" width="4" height="33"/><rect x="788.5" y="213.5" width="4" height="9"/><rect x="800.5" y="229.5" width="4" height="9"/><rect x="812.5" y="196.5" width="4" height="16"/><rect x="830.5" y="181.5" width="4" height="6"/><rect x="836.5" y="140.5" width="4" height="40"/><rect x="842.5" y="133.5" width="4" height="7"/><rect x="860.5" y="157.5" width="4" height="10"/><rect x="878.5" y="171.5" width="4" height="11"/><rect x="896.5" y="183.5" width="4" height="7"/><rect x="902.5" y="148.5" width="4" height="21"/><rect x="920.5" y="172.5" width="4" height="6"/><rect x="932.5" y="176.5" width="4" height="23"/><rect x="944.5" y="127.5" width="4" height="53"/><rect x="962.5" y="156.5" width="4" height="12"/><rect x="968.5" y="160.5" width="4" height="7"/><rect x="974.5" y="147.5" width="4" height="13"/><rect x="986.5" y="154.5" width="4" height="5"/><rect x="992.5" y="150.5" width="4" height="3"/><rect x="998.5" y="148.5" width="4" height="2"/><rect x="1004.5" y="122.5" width="4" height="26"/><rect x="1010.5" y="95.5" width="4" height="22"/><rect x="1022.5" y="105.5" width="4" height="5"/><rect x="1040.5" y="114.5" width="4" height="3"/><rect x="1046.5" y="112.5" width="4" height="2"/><rect x="1064.5" y="229.5" width="4" height="30"/><rect x="1076.5" y="197.5" width="4" height="40"/><rect x="1082.5" y="188.5" width="4" height="7"/></g><g fill="#888888" stroke="#131722" stroke-width="1"><rect x="-3.5" y="328.5" width="4" height="14"/><rect x="14.5" y="294.5" width="4" height="19"/><rect x="32.5" y="286.5" width="4" height="29"/><rect x="38.5" y="311.5" width="4" height="9"/><rect x="44.5" y="320.5" width="4" height="9"/><rect x="50.5" y="329.5" width="4" height="76"/><rect x="62.5" y="362.5" width="4" height="38"/><rect x="74.5" y="365.5" width="4" height="78"/><rect x="80.5" y="443.5" width="4" height="23"/><rect x="92.5" y="471.5" width="4" height="34"/><rect x="104.5" y="491.5" width="4" height="7"/><rect x="122.5" y="468.5" width="4" height="19"/><rect x="152.5" y="422.5" width="4" height="8"/><rect x="158.5" y="461.5" width="4" height="30"/><rect x="176.5" y="408.5" width="4" height="13"/><rect x="182.5" y="347.5" width="4" height="24"/><rect x="188.5" y="371.5" width="4" height="17"/><rect x="194.5" y="388.5" width="4" height="26"/><rect x="206.5" y="433.5" width="4" height="8"/><rect x="212.5" y="441.5" width="4" height="20"/><rect x="224.5" y="453.5" width="4" height="36"/><rect x="242.5" y="435.5" width="4" height="14"/><rect x="248.5" y="449.5" width="4" height="3"/><rect x="260.5" y="454.5" width="4" height="29"/><rect x="284.5" y="432.5" width="4" height="9"/><rect x="290.5" y="441.5" width="4" height="24"/><rect x="308.5" y="423.5" width="4" height="4"/><rect x="326.5" y="402.5" width="4" height="30"/><rect x="338.5" y="425.5" width="4" height="20"/><rect x="350.5" y="454.5" width="4" height="13"/><rect x="368.5" y="431.5" width="4" height="10"/><rect x="380.5" y="393.5" width="4" height="5"/><rect x="386.5" y="398.5" width="4" height="2"/><rect x="404.5" y="338.5" width="4" height="23"/><rect x="422.5" y="373.5" width="4" height="18"/><rect x="428.5" y="391.5" width="4" height="3"/><rect x="464.5" y="293.5" width="4" height="80"/><rect x="476.5" y="367.5" width="4" height="7"/><rect x="482.5" y="374.5" width="4" height="5"/><rect x="494.5" y="355.5" width="4" height="7"/><rect x="500.5" y="362.5" width="4" height="11"/><rect x="512.5" y="364.5" width="4" height="15"/><rect x="518.5" y="361.5" width="4" height="5"/><rect x="524.5" y="366.5" width="4" height="8"/><rect x="536.5" y="349.5" width="4" height="35"/><rect x="542.5" y="363.5" width="4" height="11"/><rect x="554.5" y="372.5" width="4" height="11"/><rect x="572.5" y="349.5" width="4" height="8"/><rect x="584.5" y="346.5" width="4" height="27"/><rect x="602.5" y="371.5" width="4" height="6"/><rect x="614.5" y="373.5" width="4" height="21"/><rect x="656.5" y="315.5" width="4" height="8"/><rect x="662.5" y="345.5" width="4" height="18"/><rect x="668.5" y="363.5" width="4" height="18"/><rect x="704.5" y="238.5" width="4" height="45"/><rect x="710.5" y="256.5" width="4" height="11"/><rect x="716.5" y="267.5" width="4" height="19"/><rect x="722.5" y="286.5" width="4" height="14"/><rect x="758.5" y="242.5" width="4" height="18"/><rect x="776.5" y="212.5" width="4" height="3"/><rect x="782.5" y="210.5" width="4" height="12"/><rect x="794.5" y="213.5" width="4" height="25"/><rect x="818.5" y="196.5" width="4" height="7"/><rect x="848.5" y="133.5" width="4" height="27"/><rect x="854.5" y="146.5" width="4" height="21"/><rect x="866.5" y="157.5" width="4" height="4"/><rect x="872.5" y="161.5" width="4" height="3"/><rect x="884.5" y="171.5" width="4" height="15"/><rect x="890.5" y="187.5" width="4" height="3"/><rect x="908.5" y="148.5" width="4" height="19"/><rect x="914.5" y="167.5" width="4" height="11"/><rect x="926.5" y="186.5" width="4" height="13"/><rect x="938.5" y="176.5" width="4" height="4"/><rect x="950.5" y="143.5" width="4" height="19"/><rect x="956.5" y="162.5" width="4" height="6"/><rect x="1016.5" y="95.5" width="4" height="15"/><rect x="1028.5" y="105.5" width="4" height="13"/><rect x="1052.5" y="112.5" width="4" height="62"/><rect x="1058.5" y="212.5" width="4" height="47"/><rect x="1070.5" y="229.5" width="4" height="8"/></g><g fill="#131722"><rect x="200" y="414.65" width="5" height="1.5"/><rect x="446" y="346.20" width="5" height="1.5"/><rect x="590" y="371.15" width="5" height="1.5"/><rect x="596" y="371.15" width="5" height="1.5"/><rect x="632" y="358.40" width="5" height="1.5"/><rect x="638" y="365.05" width="5" height="1.5"/><rect x="740" y="262.75" width="5" height="1.5"/><rect x="806" y="211.55" width="5" height="1.5"/><rect x="824" y="202.25" width="5" height="1.5"/><rect x="980" y="147.00" width="5" height="1.5"/><rect x="1034" y="116.50" width="5" height="1.5"/></g><path d="M0,188.5H1220" stroke="#e6e6e6" stroke-width="1" stroke-dasharray="1 2"/><rect x="-4" y="752" width="5" height="8" fill="#22ab94"/><rect x="2" y="749" width="5" height="11" fill="#22ab94"/><rect x="8" y="745" width="5" height="15" fill="#22ab94"/><rect x="14" y="739" width="5" height="21" fill="#22ab94"/><rect x="20" y="733" width="5" height="27" fill="#22ab94"/><rect x="26" y="728" width="5" height="32" fill="#22ab94"/><rect x="32" y="732" width="5" height="28" fill="#ace5dc"/><rect x="38" y="735" width="5" height="25" fill="#ace5dc"/><rect x="44" y="740" width="5" height="20" fill="#ace5dc"/><rect x="50" y="757" width="5" height="3" fill="#ace5dc"/><rect x="56" y="759" width="5" height="6" fill="#ff5252"/><rect x="62" y="759" width="5" height="12" fill="#ff5252"/><rect x="68" y="759" width="5" height="9" fill="#fccbcd"/><rect x="74" y="759" width="5" height="20" fill="#ff5252"/><rect x="80" y="759" width="5" height="30" fill="#ff5252"/><rect x="86" y="759" width="5" height="35" fill="#ff5252"/><rect x="92" y="759" width="5" height="41" fill="#ff5252"/><rect x="98" y="759" width="5" height="40" fill="#fccbcd"/><rect x="104" y="759" width="5" height="38" fill="#fccbcd"/><rect x="110" y="759" width="5" height="36" fill="#fccbcd"/><rect x="116" y="759" width="5" height="24" fill="#fccbcd"/><rect x="122" y="759" width="5" height="18" fill="#fccbcd"/><rect x="128" y="759" width="5" height="8" fill="#fccbcd"/><rect x="134" y="759" width="5" height="6" fill="#fccbcd"/><rect x="140" y="758" width="5" height="2" fill="#22ab94"/><rect x="146" y="743" width="5" height="17" fill="#22ab94"/><rect x="152" y="735" width="5" height="25" fill="#22ab94"/><rect x="158" y="742" width="5" height="18" fill="#ace5dc"/><rect x="164" y="740" width="5" height="20" fill="#22ab94"/><rect x="170" y="729" width="5" height="31" fill="#22ab94"/><rect x="176" y="726" width="5" height="34" fill="#22ab94"/><rect x="182" y="716" width="5" height="44" fill="#22ab94"/><rect x="188" y="715" width="5" height="45" fill="#22ab94"/><rect x="194" y="720" width="5" height="40" fill="#ace5dc"/><rect x="200" y="725" width="5" height="35" fill="#ace5dc"/><rect x="206" y="735" width="5" height="25" fill="#ace5dc"/><rect x="212" y="745" width="5" height="15" fill="#ace5dc"/><rect x="218" y="750" width="5" height="10" fill="#ace5dc"/><rect x="224" y="759" width="5" height="2" fill="#ff5252"/><rect x="230" y="759" width="5" height="1" fill="#22ab94"/><rect x="236" y="755" width="5" height="5" fill="#22ab94"/><rect x="242" y="756" width="5" height="4" fill="#ace5dc"/><rect x="248" y="757" width="5" height="3" fill="#ace5dc"/><rect x="254" y="757" width="5" height="3" fill="#ace5dc"/><rect x="260" y="759" width="5" height="5" fill="#ff5252"/><rect x="266" y="759" width="5" height="5" fill="#fccbcd"/><rect x="272" y="756" width="5" height="4" fill="#22ab94"/><rect x="278" y="752" width="5" height="8" fill="#22ab94"/><rect x="284" y="751" width="5" height="9" fill="#22ab94"/><rect x="290" y="755" width="5" height="5" fill="#ace5dc"/><rect x="296" y="755" width="5" height="5" fill="#22ab94"/><rect x="302" y="750" width="5" height="10" fill="#22ab94"/><rect x="308" y="748" width="5" height="12" fill="#22ab94"/><rect x="314" y="746" width="5" height="14" fill="#22ab94"/><rect x="320" y="742" width="5" height="18" fill="#22ab94"/><rect x="326" y="746" width="5" height="14" fill="#ace5dc"/><rect x="332" y="748" width="5" height="12" fill="#ace5dc"/><rect x="338" y="753" width="5" height="7" fill="#ace5dc"/><rect x="344" y="755" width="5" height="5" fill="#ace5dc"/><rect x="350" y="759" width="5" height="4" fill="#ff5252"/><rect x="356" y="759" width="5" height="7" fill="#ff5252"/><rect x="362" y="759" width="5" height="4" fill="#fccbcd"/><rect x="368" y="759" width="5" height="3" fill="#fccbcd"/><rect x="374" y="752" width="5" height="8" fill="#22ab94"/><rect x="380" y="747" width="5" height="13" fill="#22ab94"/><rect x="386" y="746" width="5" height="14" fill="#22ab94"/><rect x="392" y="740" width="5" height="20" fill="#22ab94"/><rect x="398" y="732" width="5" height="28" fill="#22ab94"/><rect x="404" y="732" width="5" height="28" fill="#ace5dc"/><rect x="410" y="731" width="5" height="29" fill="#22ab94"/><rect x="416" y="732" width="5" height="28" fill="#ace5dc"/><rect x="422" y="743" width="5" height="17" fill="#ace5dc"/><rect x="428" y="752" width="5" height="8" fill="#ace5dc"/><rect x="434" y="756" width="5" height="4" fill="#ace5dc"/><rect x="440" y="756" width="5" height="4" fill="#ace5dc"/><rect x="446" y="754" width="5" height="6" fill="#22ab94"/><rect x="452" y="749" width="5" height="11" fill="#22ab94"/><rect x="458" y="741" width="5" height="19" fill="#22ab94"/><rect x="464" y="752" width="5" height="8" fill="#ace5dc"/><rect x="470" y="759" width="5" height="1" fill="#ace5dc"/><rect x="476" y="759" width="5" height="7" fill="#ff5252"/><rect x="482" y="759" width="5" height="12" fill="#ff5252"/><rect x="488" y="759" width="5" height="13" fill="#ff5252"/><rect x="494" y="759" width="5" height="12" fill="#fccbcd"/><rect x="500" y="759" width="5" height="14" fill="#ff5252"/><rect x="506" y="759" width="5" height="13" fill="#fccbcd"/><rect x="512" y="759" width="5" height="15" fill="#ff5252"/><rect x="518" y="759" width="5" height="14" fill="#fccbcd"/><rect x="524" y="759" width="5" height="14" fill="#ff5252"/><rect x="530" y="759" width="5" height="9" fill="#fccbcd"/><rect x="536" y="759" width="5" height="13" fill="#ff5252"/><rect x="542" y="759" width="5" height="13" fill="#fccbcd"/><rect x="548" y="759" width="5" height="12" fill="#fccbcd"/><rect x="554" y="759" width="5" height="13" fill="#ff5252"/><rect x="560" y="759" width="5" height="13" fill="#ff5252"/><rect x="566" y="759" width="5" height="7" fill="#fccbcd"/><rect x="572" y="759" width="5" height="4" fill="#fccbcd"/><rect x="578" y="759" width="5" height="1" fill="#22ab94"/><rect x="584" y="759" width="5" height="4" fill="#ff5252"/><rect x="590" y="759" width="5" height="5" fill="#ff5252"/><rect x="596" y="759" width="5" height="6" fill="#ff5252"/><rect x="602" y="759" width="5" height="8" fill="#ff5252"/><rect x="608" y="759" width="5" height="6" fill="#fccbcd"/><rect x="614" y="759" width="5" height="11" fill="#ff5252"/><rect x="620" y="759" width="5" height="11" fill="#ff5252"/><rect x="626" y="759" width="5" height="6" fill="#fccbcd"/><rect x="632" y="759" width="5" height="3" fill="#fccbcd"/><rect x="638" y="759" width="5" height="2" fill="#fccbcd"/><rect x="644" y="755" width="5" height="5" fill="#22ab94"/><rect x="650" y="748" width="5" height="12" fill="#22ab94"/><rect x="656" y="745" width="5" height="15" fill="#22ab94"/><rect x="662" y="752" width="5" height="8" fill="#ace5dc"/><rect x="668" y="759" width="5" height="2" fill="#ff5252"/><rect x="674" y="759" width="5" height="6" fill="#ff5252"/><rect x="680" y="759" width="5" height="8" fill="#ff5252"/><rect x="686" y="748" width="5" height="12" fill="#22ab94"/><rect x="692" y="734" width="5" height="26" fill="#22ab94"/><rect x="698" y="725" width="5" height="35" fill="#22ab94"/><rect x="704" y="730" width="5" height="30" fill="#ace5dc"/><rect x="710" y="732" width="5" height="28" fill="#ace5dc"/><rect x="716" y="738" width="5" height="22" fill="#ace5dc"/><rect x="722" y="747" width="5" height="13" fill="#ace5dc"/><rect x="728" y="752" width="5" height="8" fill="#ace5dc"/><rect x="734" y="751" width="5" height="9" fill="#22ab94"/><rect x="740" y="751" width="5" height="9" fill="#ace5dc"/><rect x="746" y="750" width="5" height="10" fill="#22ab94"/><rect x="752" y="749" width="5" height="11" fill="#22ab94"/><rect x="758" y="752" width="5" height="8" fill="#ace5dc"/><rect x="764" y="753" width="5" height="7" fill="#ace5dc"/><rect x="770" y="748" width="5" height="12" fill="#22ab94"/><rect x="776" y="747" width="5" height="13" fill="#22ab94"/><rect x="782" y="749" width="5" height="11" fill="#ace5dc"/><rect x="788" y="750" width="5" height="10" fill="#ace5dc"/><rect x="794" y="757" width="5" height="3" fill="#ace5dc"/><rect x="800" y="759" width="5" height="1" fill="#ace5dc"/><rect x="806" y="759" width="5" height="1" fill="#22ab94"/><rect x="812" y="757" width="5" height="3" fill="#22ab94"/><rect x="818" y="758" width="5" height="2" fill="#ace5dc"/><rect x="824" y="759" width="5" height="1" fill="#ace5dc"/><rect x="830" y="757" width="5" height="3" fill="#22ab94"/><rect x="836" y="749" width="5" height="11" fill="#22ab94"/><rect x="842" y="744" width="5" height="16" fill="#22ab94"/><rect x="848" y="748" width="5" height="12" fill="#ace5dc"/><rect x="854" y="752" width="5" height="8" fill="#ace5dc"/><rect x="860" y="755" width="5" height="5" fill="#ace5dc"/><rect x="866" y="759" width="5" height="1" fill="#ace5dc"/><rect x="872" y="759" width="5" height="4" fill="#ff5252"/><rect x="878" y="759" width="5" height="9" fill="#ff5252"/><rect x="884" y="759" width="5" height="15" fill="#ff5252"/><rect x="890" y="759" width="5" height="19" fill="#ff5252"/><rect x="896" y="759" width="5" height="21" fill="#ff5252"/><rect x="902" y="759" width="5" height="15" fill="#fccbcd"/><rect x="908" y="759" width="5" height="15" fill="#ff5252"/><rect x="914" y="759" width="5" height="17" fill="#ff5252"/><rect x="920" y="759" width="5" height="17" fill="#ff5252"/><rect x="926" y="759" width="5" height="22" fill="#ff5252"/><rect x="932" y="759" width="5" height="20" fill="#fccbcd"/><rect x="938" y="759" width="5" height="19" fill="#fccbcd"/><rect x="944" y="759" width="5" height="9" fill="#fccbcd"/><rect x="950" y="759" width="5" height="9" fill="#fccbcd"/><rect x="956" y="759" width="5" height="10" fill="#ff5252"/><rect x="962" y="759" width="5" height="8" fill="#fccbcd"/><rect x="968" y="759" width="5" height="8" fill="#fccbcd"/><rect x="974" y="759" width="5" height="6" fill="#fccbcd"/><rect x="980" y="759" width="5" height="5" fill="#fccbcd"/><rect x="986" y="759" width="5" height="6" fill="#ff5252"/><rect x="992" y="759" width="5" height="6" fill="#fccbcd"/><rect x="998" y="759" width="5" height="5" fill="#fccbcd"/><rect x="1004" y="759" width="5" height="1" fill="#22ab94"/><rect x="1010" y="751" width="5" height="9" fill="#22ab94"/><rect x="1016" y="750" width="5" height="10" fill="#22ab94"/><rect x="1022" y="750" width="5" height="10" fill="#22ab94"/><rect x="1028" y="753" width="5" height="7" fill="#ace5dc"/><rect x="1034" y="755" width="5" height="5" fill="#ace5dc"/><rect x="1040" y="757" width="5" height="3" fill="#ace5dc"/><rect x="1046" y="758" width="5" height="2" fill="#ace5dc"/><rect x="1052" y="759" width="5" height="13" fill="#ff5252"/><rect x="1058" y="759" width="5" height="36" fill="#ff5252"/><rect x="1064" y="759" width="5" height="44" fill="#ff5252"/><rect x="1070" y="759" width="5" height="48" fill="#ff5252"/><rect x="1076" y="759" width="5" height="41" fill="#fccbcd"/><rect x="1082" y="759" width="5" height="33" fill="#fccbcd"/><g fill="none" stroke-linejoin="round"><path d="M-1.5,847.01 L4.5,841.09 L10.5,832.81 L16.5,822.45 L22.5,809.85 L28.5,797.00 L34.5,793.05 L40.5,790.71 L46.5,790.68 L52.5,807.26 L58.5,814.94 L64.5,823.93 L70.5,822.42 L76.5,838.03 L82.5,854.59 L88.5,867.58 L94.5,884.11 L100.5,892.57 L106.5,899.23 L112.5,905.86 L118.5,899.67 L124.5,897.46 L130.5,888.65 L136.5,887.50 L142.5,881.02 L148.5,862.46 L154.5,848.54 L160.5,850.30 L166.5,843.00 L172.5,825.29 L178.5,813.65 L184.5,792.69 L190.5,779.70 L196.5,775.21 L202.5,771.78 L208.5,774.72 L214.5,781.37 L220.5,784.49 L226.5,794.66 L232.5,792.40 L238.5,787.86 L244.5,787.36 L250.5,787.37 L256.5,787.38 L262.5,793.64 L268.5,794.06 L274.5,786.97 L280.5,780.77 L286.5,777.64 L292.5,780.46 L298.5,779.21 L304.5,771.69 L310.5,766.59 L316.5,760.75 L322.5,752.80 L328.5,752.97 L334.5,751.58 L340.5,755.08 L346.5,756.27 L352.5,763.82 L358.5,768.55 L364.5,765.14 L370.5,764.70 L376.5,753.47 L382.5,745.93 L388.5,740.59 L394.5,730.25 L400.5,714.92 L406.5,708.60 L412.5,700.46 L418.5,693.56 L424.5,700.65 L430.5,707.49 L436.5,710.81 L442.5,710.37 L448.5,706.35 L454.5,698.39 L460.5,686.09 L466.5,695.32 L472.5,701.92 L478.5,709.36 L484.5,716.90 L490.5,720.10 L496.5,722.39 L502.5,727.10 L508.5,729.10 L514.5,734.46 L520.5,735.96 L526.5,739.25 L532.5,736.37 L538.5,742.30 L544.5,744.90 L550.5,746.59 L556.5,750.56 L562.5,753.41 L568.5,748.44 L574.5,746.48 L580.5,742.64 L586.5,745.90 L592.5,748.43 L598.5,750.55 L604.5,753.39 L610.5,753.24 L616.5,759.52 L622.5,761.88 L628.5,758.13 L634.5,755.50 L640.5,755.00 L646.5,748.17 L652.5,738.01 L658.5,732.05 L664.5,736.80 L670.5,744.74 L676.5,750.08 L682.5,753.16 L688.5,731.84 L694.5,711.19 L700.5,693.77 L706.5,690.97 L712.5,685.96 L718.5,687.22 L724.5,692.11 L730.5,695.84 L736.5,692.28 L742.5,690.21 L748.5,686.33 L754.5,682.33 L760.5,684.10 L766.5,682.98 L772.5,675.59 L778.5,671.38 L784.5,670.85 L790.5,669.31 L796.5,674.72 L802.5,677.88 L808.5,677.60 L814.5,674.61 L820.5,674.81 L826.5,675.99 L832.5,672.74 L838.5,662.11 L844.5,653.32 L850.5,653.71 L856.5,656.76 L862.5,658.16 L868.5,661.29 L874.5,665.57 L880.5,671.58 L886.5,680.70 L892.5,689.55 L898.5,695.70 L904.5,693.36 L910.5,696.68 L916.5,702.40 L922.5,706.18 L928.5,715.85 L934.5,718.79 L940.5,722.43 L946.5,713.77 L952.5,715.39 L958.5,718.48 L964.5,718.69 L970.5,720.31 L976.5,719.08 L982.5,718.75 L988.5,720.19 L994.5,721.07 L1000.5,721.73 L1006.5,716.84 L1012.5,707.37 L1018.5,703.92 L1024.5,700.81 L1030.5,701.86 L1036.5,703.26 L1042.5,704.26 L1048.5,705.24 L1054.5,720.68 L1060.5,752.22 L1066.5,770.28 L1072.5,786.10 L1078.5,789.10 L1084.5,789.09" stroke="#2196f3" stroke-width="1"/><path d="M-1.5,854.46 L4.5,851.79 L10.5,847.99 L16.5,842.88 L22.5,836.28 L28.5,828.42 L34.5,821.35 L40.5,815.22 L46.5,810.31 L52.5,809.70 L58.5,810.75 L64.5,813.39 L70.5,815.19 L76.5,819.76 L82.5,826.73 L88.5,834.90 L94.5,844.74 L100.5,854.31 L106.5,863.29 L112.5,871.80 L118.5,877.38 L124.5,881.39 L130.5,882.84 L136.5,883.77 L142.5,883.22 L148.5,879.07 L154.5,872.97 L160.5,868.43 L166.5,863.34 L172.5,855.73 L178.5,847.32 L184.5,836.39 L190.5,825.05 L196.5,815.08 L202.5,806.42 L208.5,800.08 L214.5,796.34 L220.5,793.97 L226.5,794.11 L232.5,793.77 L238.5,792.59 L244.5,791.54 L250.5,790.71 L256.5,790.04 L262.5,790.76 L268.5,791.42 L274.5,790.53 L280.5,788.58 L286.5,786.39 L292.5,785.21 L298.5,784.01 L304.5,781.54 L310.5,778.55 L316.5,774.99 L322.5,770.55 L328.5,767.04 L334.5,763.95 L340.5,762.17 L346.5,760.99 L352.5,761.56 L358.5,762.95 L364.5,763.39 L370.5,763.65 L376.5,761.62 L382.5,758.48 L388.5,754.90 L394.5,749.97 L400.5,742.96 L406.5,736.09 L412.5,728.96 L418.5,721.88 L424.5,717.64 L430.5,715.61 L436.5,714.65 L442.5,713.79 L448.5,712.30 L454.5,709.52 L460.5,704.83 L466.5,702.93 L472.5,702.73 L478.5,704.06 L484.5,706.62 L490.5,709.32 L496.5,711.93 L502.5,714.97 L508.5,717.79 L514.5,721.13 L520.5,724.09 L526.5,727.12 L532.5,728.97 L538.5,731.64 L544.5,734.29 L550.5,736.75 L556.5,739.51 L562.5,742.29 L568.5,743.52 L574.5,744.11 L580.5,743.82 L586.5,744.24 L592.5,745.07 L598.5,746.17 L604.5,747.61 L610.5,748.74 L616.5,750.90 L622.5,753.09 L628.5,754.10 L634.5,754.38 L640.5,754.51 L646.5,753.24 L652.5,750.19 L658.5,746.56 L664.5,744.61 L670.5,744.64 L676.5,745.72 L682.5,747.21 L688.5,744.14 L694.5,737.55 L700.5,728.79 L706.5,721.23 L712.5,714.17 L718.5,708.78 L724.5,705.45 L730.5,703.53 L736.5,701.28 L742.5,699.06 L748.5,696.52 L754.5,693.68 L760.5,691.76 L766.5,690.01 L772.5,687.12 L778.5,683.98 L784.5,681.35 L790.5,678.94 L796.5,678.10 L802.5,678.05 L808.5,677.96 L814.5,677.29 L820.5,676.80 L826.5,676.63 L832.5,675.86 L838.5,673.11 L844.5,669.15 L850.5,666.06 L856.5,664.20 L862.5,662.99 L868.5,662.65 L874.5,663.24 L880.5,664.90 L886.5,668.06 L892.5,672.36 L898.5,677.03 L904.5,680.30 L910.5,683.57 L916.5,687.34 L922.5,691.11 L928.5,696.06 L934.5,700.60 L940.5,704.97 L946.5,706.73 L952.5,708.46 L958.5,710.46 L964.5,712.11 L970.5,713.75 L976.5,714.81 L982.5,715.60 L988.5,716.52 L994.5,717.43 L1000.5,718.29 L1006.5,718.00 L1012.5,715.87 L1018.5,713.48 L1024.5,710.95 L1030.5,709.13 L1036.5,707.96 L1042.5,707.22 L1048.5,706.82 L1054.5,709.59 L1060.5,718.12 L1066.5,728.55 L1072.5,740.06 L1078.5,749.87 L1084.5,757.71" stroke="#f23673" stroke-width="2"/></g><path d="M0,621.5H1280" stroke="#e0e3eb" stroke-width="1"/><rect x="0" y="0" width="1280" height="31" fill="#fff"/><rect x="0" y="932" width="1280" height="28" fill="#fff"/><rect x="1220" y="31" width="60" height="590" fill="#fff"/><rect x="1220" y="622" width="60" height="310" fill="#fff"/><path d="M0,621.5H1280" stroke="#e0e3eb" stroke-width="1"/><text x="1230.16" y="76.80" font-size="12" fill="#131722" textLength="40.16" lengthAdjust="spacingAndGlyphs">160.000</text><text x="1230.16" y="124.80" font-size="12" fill="#131722" textLength="40.16" lengthAdjust="spacingAndGlyphs">158.000</text><text x="1230.16" y="171.80" font-size="12" fill="#131722" textLength="40.16" lengthAdjust="spacingAndGlyphs">156.000</text><text x="1230.16" y="219.80" font-size="12" fill="#131722" textLength="40.16" lengthAdjust="spacingAndGlyphs">154.000</text><text x="1230.16" y="267.80" font-size="12" fill="#131722" textLength="40.16" lengthAdjust="spacingAndGlyphs">152.000</text><text x="1230.16" y="314.80" font-size="12" fill="#131722" textLength="40.16" lengthAdjust="spacingAndGlyphs">150.000</text><text x="1230.16" y="362.80" font-size="12" fill="#131722" textLength="40.16" lengthAdjust="spacingAndGlyphs">148.000</text><text x="1230.16" y="409.80" font-size="12" fill="#131722" textLength="40.16" lengthAdjust="spacingAndGlyphs">146.000</text><text x="1230.16" y="457.80" font-size="12" fill="#131722" textLength="40.16" lengthAdjust="spacingAndGlyphs">144.000</text><text x="1230.16" y="505.80" font-size="12" fill="#131722" textLength="40.16" lengthAdjust="spacingAndGlyphs">142.000</text><text x="1230.16" y="552.80" font-size="12" fill="#131722" textLength="40.16" lengthAdjust="spacingAndGlyphs">140.000</text><text x="1230.16" y="600.80" font-size="12" fill="#131722" textLength="40.16" lengthAdjust="spacingAndGlyphs">138.000</text><text x="1230.44" y="629.80" font-size="12" fill="#131722" textLength="27.89" lengthAdjust="spacingAndGlyphs">2.000</text><text x="1230.14" y="663.80" font-size="12" fill="#131722" textLength="28.19" lengthAdjust="spacingAndGlyphs">1.500</text><text x="1230.14" y="696.80" font-size="12" fill="#131722" textLength="28.19" lengthAdjust="spacingAndGlyphs">1.000</text><text x="1230.57" y="730.80" font-size="12" fill="#131722" textLength="27.76" lengthAdjust="spacingAndGlyphs">0.500</text><text x="1229.75" y="831.80" font-size="12" fill="#131722" textLength="34.68" lengthAdjust="spacingAndGlyphs">−1.000</text><text x="1229.75" y="864.80" font-size="12" fill="#131722" textLength="34.68" lengthAdjust="spacingAndGlyphs">−1.500</text><text x="1229.75" y="898.80" font-size="12" fill="#131722" textLength="34.68" lengthAdjust="spacingAndGlyphs">−2.000</text><text x="1229.75" y="931.80" font-size="12" fill="#131722" textLength="34.68" lengthAdjust="spacingAndGlyphs">−2.500</text><path d="M1220,54.0H1274.0a2,2 0 0 1 2,2V69.0a2,2 0 0 1 -2,2H1220z" fill="#2196f3"/><text x="1230.19" y="67.00" font-size="12" fill="#fff" textLength="38.52" lengthAdjust="spacingAndGlyphs">160.414</text><path d="M1220,129.2H1274.0a2,2 0 0 1 2,2V144.0a2,2 0 0 1 -2,2H1220z" fill="#2196f3"/><text x="1230.19" y="142.10" font-size="12" fill="#fff" textLength="38.73" lengthAdjust="spacingAndGlyphs">156.561</text><path d="M1220,146.0H1274.0a2,2 0 0 1 2,2V161.0a2,2 0 0 1 -2,2H1220z" fill="#e47404"/><text x="1230.19" y="159.00" font-size="12" fill="#fff" textLength="38.67" lengthAdjust="spacingAndGlyphs">155.976</text><path d="M1220,163.0H1274.0a2,2 0 0 1 2,2V178.0a2,2 0 0 1 -2,2H1220z" fill="#f7b42c"/><text x="1230.19" y="176.00" font-size="12" fill="#131722" textLength="38.67" lengthAdjust="spacingAndGlyphs">155.703</text><path d="M1220,180.0H1274.0a2,2 0 0 1 2,2V194.8a2,2 0 0 1 -2,2H1220z" fill="#f6f6f6"/><text x="1230.19" y="192.90" font-size="12" fill="#131722" textLength="38.62" lengthAdjust="spacingAndGlyphs">155.140</text><path d="M1220,237.6H1274.0a2,2 0 0 1 2,2V252.6a2,2 0 0 1 -2,2H1220z" fill="#2196f3"/><text x="1230.19" y="250.60" font-size="12" fill="#fff" textLength="38.67" lengthAdjust="spacingAndGlyphs">152.708</text><path d="M1220,749.0H1262.0a2,2 0 0 1 2,2V763.8a2,2 0 0 1 -2,2H1220z" fill="#f23672"/><text x="1229.55" y="761.90" font-size="12" fill="#fff" textLength="28.68" lengthAdjust="spacingAndGlyphs">0.034</text><path d="M1220,765.8H1267.8a2,2 0 0 1 2,2V781.0a2,2 0 0 1 -2,2H1220z" fill="#2196f3"/><text x="1230.05" y="779.00" font-size="12" fill="#fff" textLength="34.51" lengthAdjust="spacingAndGlyphs">−0.437</text><path d="M1220,783.0H1267.8a2,2 0 0 1 2,2V797.8a2,2 0 0 1 -2,2H1220z" fill="#fccdd2"/><text x="1230.07" y="795.90" font-size="12" fill="#131722" textLength="33.15" lengthAdjust="spacingAndGlyphs">−0.471</text><text x="36.88" y="950.00" font-size="12" fill="#131722" textLength="18.92" lengthAdjust="spacingAndGlyphs">Apr</text><text x="142.73" y="950.00" font-size="12" fill="#131722" textLength="22.40" lengthAdjust="spacingAndGlyphs">May</text><text x="245.91" y="950.00" font-size="12" fill="#131722" textLength="20.51" lengthAdjust="spacingAndGlyphs">Jun</text><text x="349.79" y="950.00" font-size="12" fill="#131722" textLength="17.94" lengthAdjust="spacingAndGlyphs">Jul</text><text x="462.38" y="950.00" font-size="12" fill="#131722" textLength="20.36" lengthAdjust="spacingAndGlyphs">Aug</text><text x="557.48" y="950.00" font-size="12" fill="#131722" textLength="20.49" lengthAdjust="spacingAndGlyphs">Sep</text><text x="666.11" y="950.00" font-size="12" fill="#131722" textLength="19.47" lengthAdjust="spacingAndGlyphs">Oct</text><text x="773.44" y="950.00" font-size="12" fill="#131722" textLength="20.80" lengthAdjust="spacingAndGlyphs">Nov</text><text x="869.03" y="950.00" font-size="12" fill="#131722" textLength="21.08" lengthAdjust="spacingAndGlyphs">Dec</text><text x="968.28" y="950.00" font-size="12" fill="#131722" font-weight="bold" textLength="27.77" lengthAdjust="spacingAndGlyphs">2026</text><text x="1073.54" y="950.00" font-size="12" fill="#131722" textLength="20.19" lengthAdjust="spacingAndGlyphs">Feb</text><text x="1192.77" y="950.00" font-size="12" fill="#131722" textLength="20.68" lengthAdjust="spacingAndGlyphs">Mar</text><text x="9.88" y="20.00" font-size="12" fill="#131722" font-weight="bold" textLength="147.86" lengthAdjust="spacingAndGlyphs">USDJPY 1D - 1uptick.com</text><rect x="4" y="31" width="222" height="20" fill="#fff" fill-opacity="0.75"/><rect x="4" y="55" width="188" height="21" fill="#fff" fill-opacity="0.75"/><rect x="4" y="79" width="188" height="21" fill="#fff" fill-opacity="0.75"/><text x="8.75" y="44.70" font-size="12" fill="#131722" textLength="14.67" lengthAdjust="spacingAndGlyphs">BB</text><text x="27.55" y="44.70" font-size="12" fill="#4c525e" textLength="25.41" lengthAdjust="spacingAndGlyphs">20 2</text><text x="66.88" y="44.70" font-size="12" fill="#2196f3" textLength="46.23" lengthAdjust="spacingAndGlyphs">156.561</text><text x="119.81" y="44.70" font-size="12" fill="#2196f3" textLength="47.06" lengthAdjust="spacingAndGlyphs">160.414</text><text x="172.50" y="44.70" font-size="12" fill="#2196f3" textLength="47.36" lengthAdjust="spacingAndGlyphs">152.708</text><text x="8.12" y="68.70" font-size="12" fill="#131722" textLength="17.20" lengthAdjust="spacingAndGlyphs">MA</text><text x="29.57" y="68.70" font-size="12" fill="#4c525e" textLength="95.21" lengthAdjust="spacingAndGlyphs">10 close 0 SMA 9</text><text x="138.51" y="68.70" font-size="12" fill="#f2b33d" textLength="47.25" lengthAdjust="spacingAndGlyphs">155.703</text><text x="8.12" y="92.70" font-size="12" fill="#131722" textLength="17.20" lengthAdjust="spacingAndGlyphs">MA</text><text x="30.01" y="92.70" font-size="12" fill="#4c525e" textLength="94.76" lengthAdjust="spacingAndGlyphs">50 close 0 SMA 9</text><text x="138.51" y="92.70" font-size="12" fill="#e47a12" textLength="47.25" lengthAdjust="spacingAndGlyphs">155.976</text><text x="7.91" y="642.80" font-size="12" fill="#131722" textLength="34.20" lengthAdjust="spacingAndGlyphs">MACD</text><text x="45.42" y="642.80" font-size="12" fill="#4c525e" textLength="76.48" lengthAdjust="spacingAndGlyphs">12 26 close 9</text><text x="136.08" y="642.80" font-size="12" fill="#fccdd2" textLength="39.24" lengthAdjust="spacingAndGlyphs">−0.471</text><text x="181.86" y="642.80" font-size="12" fill="#2196f3" textLength="40.30" lengthAdjust="spacingAndGlyphs">−0.437</text><text x="227.26" y="642.80" font-size="12" fill="#f23672" textLength="34.34" lengthAdjust="spacingAndGlyphs">0.034</text><rect x="9.5" y="102.5" width="28" height="20" rx="3" fill="#fff" stroke="#d1d4dc"/><path d="M19.6,114.4 L23.5,111 L27.4,114.2" stroke="#131722" stroke-width="1.4" fill="none"/><circle cx="23.7" cy="910" r="16.3" fill="#fff" stroke="#e2e2e4"/><path d="M13.1,905.05H21.8V915.7H18.05V908.8H13.1Z M29.4,905.2H34.2L30.1,915.7H25.1Z" fill="#131722"/><circle cx="25.0" cy="906.9" r="1.85" fill="#131722"/><g stroke="#131722" stroke-width="1.3" fill="none" stroke-linecap="round"><circle cx="1250.5" cy="946.4" r="4.8"/><path d="M1255.80,946.40L1257.70,946.40"/><path d="M1254.25,950.15L1255.03,950.93"/><path d="M1250.50,951.70L1250.50,953.60"/><path d="M1246.75,950.15L1245.97,950.93"/><path d="M1245.20,946.40L1243.30,946.40"/><path d="M1246.75,942.65L1245.97,941.87"/><path d="M1250.50,941.10L1250.50,939.20"/><path d="M1254.25,942.65L1255.03,941.87"/></g></svg>
</body></html>
